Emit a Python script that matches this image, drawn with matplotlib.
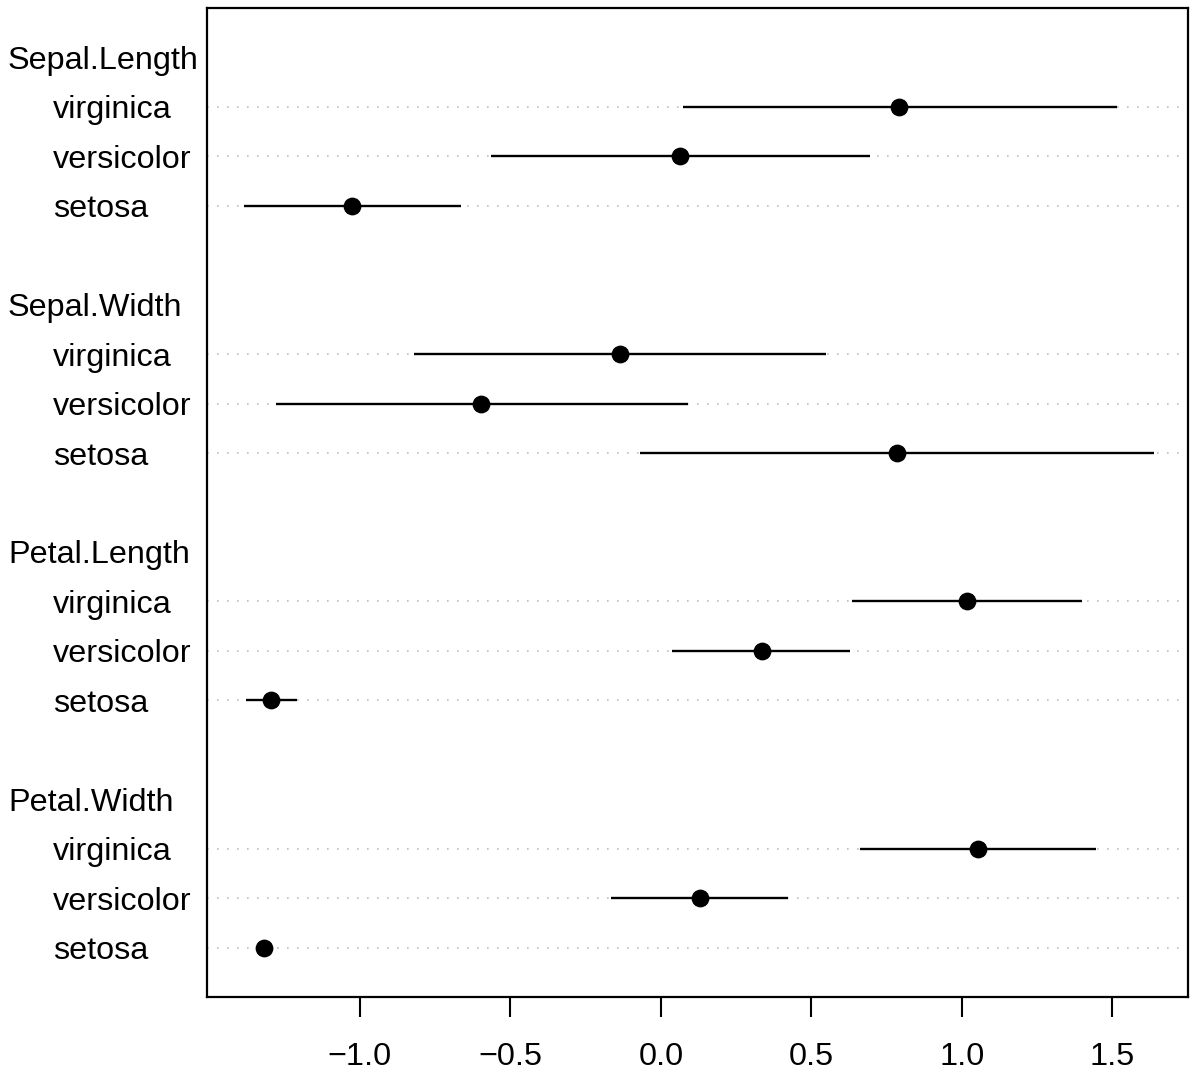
import matplotlib
matplotlib.use("Agg")
import matplotlib.pyplot as plt
from matplotlib.transforms import blended_transform_factory

plt.rcParams['font.family'] = ['Liberation Sans', 'DejaVu Sans']

# variables, listed top to bottom; species within each, top to bottom
groups = ["Sepal.Length", "Sepal.Width", "Petal.Length", "Petal.Width"]
species = ["virginica", "versicolor", "setosa"]

# point estimate and interval per group (same order as species)
centers = [
    [0.791, 0.063, -1.027],
    [-0.136, -0.598, 0.784],
    [1.017, 0.336, -1.296],
    [1.053, 0.130, -1.318],
]
lower = [
    [0.073, -0.565, -1.385],
    [-0.821, -1.279, -0.070],
    [0.635, 0.037, -1.379],
    [0.661, -0.166, -1.318],
]
upper = [
    [1.515, 0.694, -0.664],
    [0.548, 0.090, 1.638],
    [1.399, 0.628, -1.209],
    [1.445, 0.422, -1.318],
]

W, H = 1197, 1073
fig = plt.figure(figsize=(W / 100, H / 100), dpi=100)
ax = fig.add_axes([207 / W, 1 - 997 / H, 981 / W, 989 / H])

lab_tf = blended_transform_factory(fig.transFigure, ax.transData)
n_sp = len(species)
fs = 23.3

for g, name in enumerate(groups):
    # rows counted from the bottom like R's dotchart
    base = (len(groups) - 1 - g) * (n_sp + 2)
    header_y = base + n_sp + 1
    ax.text(8 / W, header_y, name, transform=lab_tf, fontsize=fs,
            ha='left', va='center_baseline')
    for s, sp in enumerate(species):
        y = base + n_sp - s
        ax.axhline(y, color='#bebebe', lw=1.2, ls=(0, (1, 5)), zorder=1)
        ax.plot([lower[g][s], upper[g][s]], [y, y], color='black', lw=1.7,
                solid_capstyle='butt', zorder=2)
        ax.plot(centers[g][s], y, 'o', color='black', ms=11.8, zorder=3)
        ax.text(53 / W, y, sp, transform=lab_tf, fontsize=fs,
                ha='left', va='center_baseline')

ax.set_xlim(-1.508, 1.751)
ax.set_ylim(0, 20)
ax.set_yticks([])
ax.set_xticks([-1.0, -0.5, 0.0, 0.5, 1.0, 1.5])
ax.set_xticklabels(["\u22121.0", "\u22120.5", "0.0", "0.5", "1.0", "1.5"])
ax.tick_params(axis='x', length=14.5, width=1.5, labelsize=fs, pad=18)
for sp in ax.spines.values():
    sp.set_linewidth(1.6)

fig.savefig("out.png", dpi=100)
